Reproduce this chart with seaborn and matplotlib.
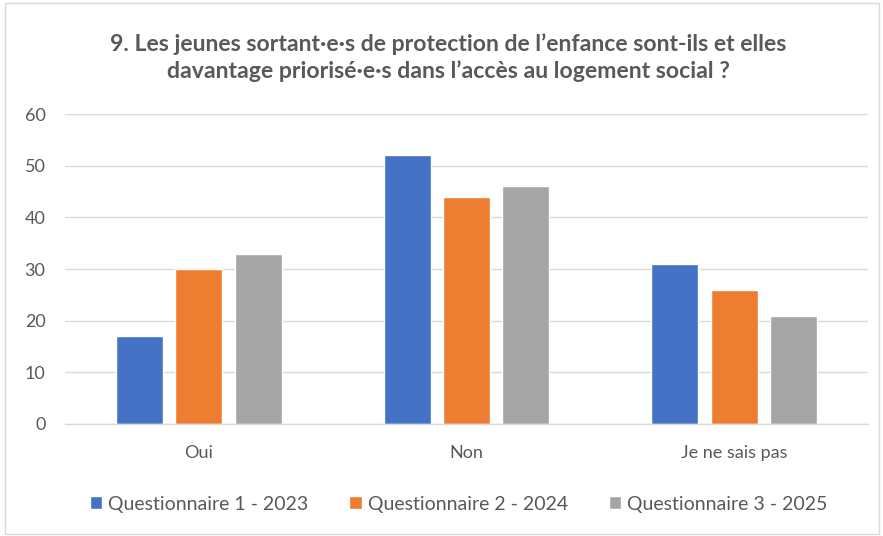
import matplotlib
matplotlib.use("Agg")
import matplotlib.pyplot as plt
import seaborn as sns
import pandas as pd
from matplotlib.patches import Rectangle

categories = ["Oui", "Non", "Je ne sais pas"]
series = ["Questionnaire 1 - 2023", "Questionnaire 2 - 2024", "Questionnaire 3 - 2025"]
q1_2023 = [17, 52, 31]
q2_2024 = [30, 44, 26]
q3_2025 = [33, 46, 21]
colors = ["#4472C4", "#ED7D31", "#A5A5A5"]
title = "9. Les jeunes sortant·e·s de protection de l’enfance sont-ils et elles\ndavantage priorisé·e·s dans l’accès au logement social ?"

rows = []
for s, vals in zip(series, [q1_2023, q2_2024, q3_2025]):
    for c, v in zip(categories, vals):
        rows.append({"cat": c, "serie": s, "val": v})
df = pd.DataFrame(rows)

sns.set_theme(style="white")
plt.rcParams["font.family"] = ["Lato", "DejaVu Sans"]

fig = plt.figure(figsize=(8.83, 5.36), dpi=100)
ax = fig.add_axes([0.0736, 0.209, 0.9094, 0.578])

sns.barplot(data=df, x="cat", y="val", hue="serie", palette=colors,
            width=0.666, gap=0.21, ax=ax, order=categories, hue_order=series,
            saturation=1, legend=True)

ax.set_ylim(0, 60)
ax.set_xlim(-0.5, 2.5)
ax.set_yticks(range(0, 61, 10))
ax.yaxis.grid(True, color="#D9D9D9", linewidth=1)
ax.set_axisbelow(True)
for sp in ["top", "right", "left"]:
    ax.spines[sp].set_visible(False)
ax.spines["bottom"].set_color("#D9D9D9")
ax.spines["bottom"].set_linewidth(1)
ax.set_xlabel("")
ax.set_ylabel("")
ax.tick_params(axis="both", length=0, labelsize=13, labelcolor="#595959")
ax.tick_params(axis="x", pad=15)
ax.tick_params(axis="y", pad=14)

leg = ax.legend(loc="upper center", bbox_to_anchor=(0.49, -0.175), ncol=3,
                frameon=False, fontsize=14, handlelength=0.65, handleheight=0.65,
                handletextpad=0.3, columnspacing=2.1)
for t in leg.get_texts():
    t.set_color("#595959")

fig.text(0.508, 0.893, title, ha="center", va="center", fontsize=16.6,
         fontweight="bold", color="#595959", linespacing=1.3)

fig.patches.append(Rectangle((0.006, 0.004), 0.99, 0.99, transform=fig.transFigure,
                             fill=False, edgecolor="#D9D9D9", linewidth=1))

fig.savefig("out.png", dpi=100)
